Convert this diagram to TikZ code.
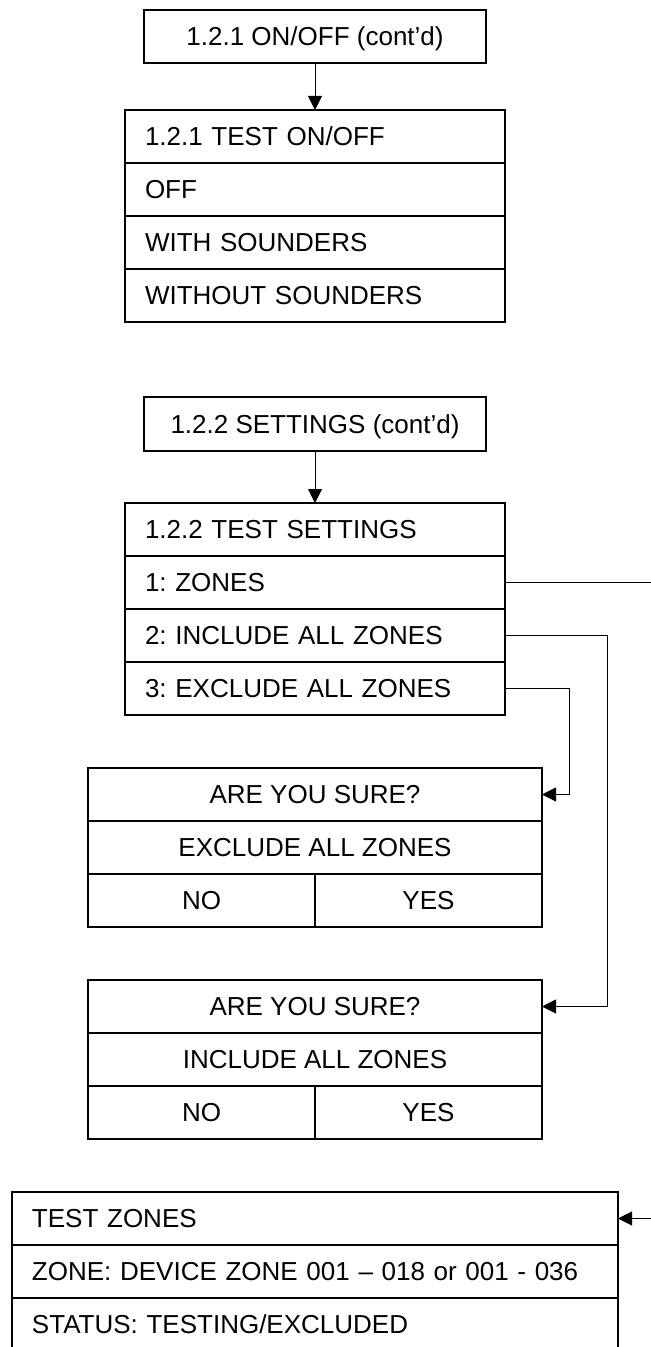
\documentclass[tikz,border=0pt]{standalone}
\usepackage{fontspec}
\setmainfont{Liberation Sans}
\usetikzlibrary{
arrows.meta,
positioning
}
\frenchspacing

\tikzset{
    menubox/.style={
        draw,
        line width=1pt,
        outer sep=0pt,
        inner sep=0pt,
        minimum height=26.5pt,
        text height=9.3pt,
        text depth=0pt,
        font=\fontsize{13}{15}\selectfont
    },
    hdrbox/.style={menubox, minimum width=171pt},
    listrow/.style={menubox, inner xsep=10pt, text width=170pt, align=left},
    surerow/.style={menubox, minimum width=227pt},
    halfcell/.style={menubox, minimum width=113.5pt},
    zonerow/.style={menubox, inner xsep=10pt, text width=283pt, align=left},
    conn/.style={
        line width=0.5pt,
        -{Triangle[length=7pt,width=7pt]}
    }
}

\begin{document}
\begin{tikzpicture}[
    x=0.5pt,
    y=-0.5pt
]

\path[use as bounding box] (0,0) rectangle (651,1347);
\clip (0,0) rectangle (651,1347);

% =====================================================
% 1.2.1 ON/OFF
% =====================================================
\node[hdrbox] (onoffhdr) at (315,36.5) {1.2.1 ON/OFF (cont’d)};

\node[listrow] (onoffhead) at (315,136.5) {1.2.1 TEST ON/OFF};
\node[listrow, below=0pt of onoffhead] (onoffoff) {OFF};
\node[listrow, below=0pt of onoffoff] (onoffwith) {WITH SOUNDERS};
\node[listrow, below=0pt of onoffwith] (onoffwithout) {WITHOUT SOUNDERS};

\draw[conn] (onoffhdr) -- (onoffhead);

% =====================================================
% 1.2.2 SETTINGS
% =====================================================
\node[hdrbox] (sethdr) at (315,424) {1.2.2 SETTINGS (cont’d)};

\node[listrow] (sethead) at (315,529.5) {1.2.2 TEST SETTINGS};
\node[listrow, below=0pt of sethead] (setzones) {1: ZONES};
\node[listrow, below=0pt of setzones] (setincl) {2: INCLUDE ALL ZONES};
\node[listrow, below=0pt of setincl] (setexcl) {3: EXCLUDE ALL ZONES};

\draw[conn] (sethdr) -- (sethead);

% =====================================================
% CONFIRM EXCLUDE
% =====================================================
\node[surerow] (exclask) at (315,794.5) {ARE YOU SURE?};
\node[surerow, below=0pt of exclask] (exclmsg) {EXCLUDE ALL ZONES};
\node[halfcell, below right=0pt and 0pt of exclmsg.south west] (exclno) {NO};
\node[halfcell, right=0pt of exclno] (exclyes) {YES};

% =====================================================
% CONFIRM INCLUDE
% =====================================================
\node[surerow] (inclask) at (315,1006.5) {ARE YOU SURE?};
\node[surerow, below=0pt of inclask] (inclmsg) {INCLUDE ALL ZONES};
\node[halfcell, below right=0pt and 0pt of inclmsg.south west] (inclno) {NO};
\node[halfcell, right=0pt of inclno] (inclyes) {YES};

% =====================================================
% TEST ZONES
% =====================================================
\node[zonerow] (tzhead) at (315,1218.5) {TEST ZONES};
\node[zonerow, below=0pt of tzhead] (tzzone) {ZONE: DEVICE ZONE 001 – 018 or 001 - 036};
\node[zonerow, below=0pt of tzzone] (tzstatus) {STATUS: TESTING/EXCLUDED};

% =====================================================
% CONNECTIONS
% =====================================================
\coordinate (exclturn) at (569,0);
\coordinate (inclturn) at (607,0);
\coordinate (zoneturn) at (690,0);

\draw[conn] (setexcl.east) -- (setexcl.east -| exclturn) |- (exclask.east);
\draw[conn] (setincl.east) -- (setincl.east -| inclturn) |- (inclask.east);
\draw[conn] (setzones.east) -- (setzones.east -| zoneturn) |- (tzhead.east);

\end{tikzpicture}
\end{document}
